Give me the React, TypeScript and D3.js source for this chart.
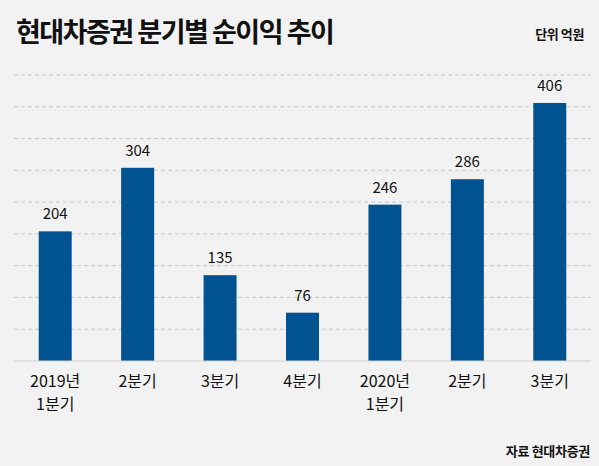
import React, { FC, useMemo } from 'react'
import * as d3 from 'd3'

// 분기별 순이익 (단위: 억원)
const categories = ['2019년\n1분기', '2분기', '3분기', '4분기', '2020년\n1분기', '2분기', '3분기']
const netIncome = [204, 304, 135, 76, 246, 286, 406]
const yTicks = [0, 50, 100, 150, 200, 250, 300, 350, 400, 450]

const WIDTH = 599
const HEIGHT = 466
const FONT = '"Noto Sans CJK KR", "Noto Sans", sans-serif'
const BAR_COLOR = '#005291'

const App: FC = () => {
	const keys = categories.map((_, i) => String(i))

	const xScale = useMemo(() => {
		return d3
			.scaleBand()
			.domain(keys)
			.range([14, 591])
			.paddingInner(0.6)
			.paddingOuter(0.3)
	}, [])

	const yScale = useMemo(() => {
		return d3.scaleLinear().domain([0, 450]).range([361, 75])
	}, [])

	const cx = (i: number) => (xScale(String(i)) || 0) + xScale.bandwidth() / 2

	return (
		<svg
			width={WIDTH}
			height={HEIGHT}
			style={{ position: 'absolute', left: 0, top: 0, background: '#f2f2f2', fontFamily: FONT }}
		>
			<rect width={WIDTH} height={HEIGHT} fill="#f2f2f2" />

			{/* 제목 */}
			<text x={16} y={42} fontSize={27} fontWeight={700} letterSpacing={-1.5} fill="#111">
				현대차증권 분기별 순이익 추이
			</text>
			<text x={584} y={39} fontSize={13} fontWeight={700} letterSpacing={-0.4} textAnchor="end" fill="#111">
				단위 억원
			</text>

			{/* 그리드 */}
			<g>
				{yTicks
					.filter((t) => t > 0)
					.map((t) => (
						<line
							key={t}
							x1={14}
							x2={591}
							y1={yScale(t)}
							y2={yScale(t)}
							stroke="#c9c9c9"
							strokeDasharray="4 3"
						/>
					))}
			</g>

			{/* 막대 */}
			<g>
				{netIncome.map((d, i) => (
					<g key={i}>
						<rect
							x={xScale(String(i))}
							y={yScale(d)}
							width={xScale.bandwidth()}
							height={yScale(0) - yScale(d)}
							fill={BAR_COLOR}
						/>
						<text x={cx(i)} y={yScale(d) - 12} fontSize={15} textAnchor="middle" fill="#111">
							{d}
						</text>
					</g>
				))}
			</g>

			<line x1={14} x2={591} y1={yScale(0)} y2={yScale(0)} stroke="#d0d0d0" strokeWidth={1} />

			{/* x축 라벨 */}
			<g>
				{categories.map((c, i) => (
					<text key={i} x={cx(i)} y={387} fontSize={16} textAnchor="middle" fill="#111">
						{c.split('\n').map((line, j) => (
							<tspan key={j} x={cx(i)} dy={j === 0 ? 0 : 23}>
								{line}
							</tspan>
						))}
					</text>
				))}
			</g>

			<text x={590} y={456} fontSize={13} fontWeight={700} letterSpacing={-0.3} textAnchor="end" fill="#111">
				자료 현대차증권
			</text>
		</svg>
	)
}

export default App
